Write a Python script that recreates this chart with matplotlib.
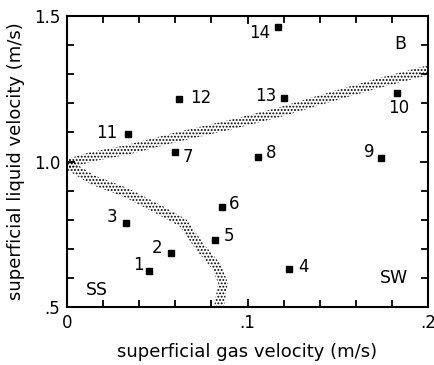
import numpy as np
import matplotlib
matplotlib.use('Agg')
import matplotlib.pyplot as plt
from matplotlib.patches import Polygon
from matplotlib.transforms import IdentityTransform

# measured points (gas velocity, liquid velocity), numbered 1..14
point_ids = [str(i) for i in range(1, 15)]
gas_vel = [0.0454, 0.0576, 0.0327, 0.123, 0.082, 0.0859, 0.0598,
           0.1058, 0.174, 0.183, 0.0338, 0.062, 0.120, 0.117]
liq_vel = [0.624, 0.686, 0.789, 0.631, 0.730, 0.844, 1.033,
           1.015, 1.012, 1.235, 1.095, 1.215, 1.218, 1.462]

# transition boundaries
upper_gas = [0.0, 0.0127, 0.0332, 0.0609, 0.0942, 0.118, 0.146, 0.173, 0.2]
upper_liq = [0.991, 1.015, 1.040, 1.084, 1.132, 1.170, 1.222, 1.270, 1.314]
lower_gas = [0.0, 0.0144, 0.0332, 0.0515, 0.0643, 0.0737, 0.0831, 0.0864, 0.0848, 0.084]
lower_liq = [0.991, 0.936, 0.892, 0.833, 0.789, 0.706, 0.637, 0.582, 0.524, 0.49]

# regime labels
regimes = ['B', 'SS', 'SW']
regime_gas = [0.1845, 0.0166, 0.181]
regime_liq = [1.404, 0.558, 0.60]

# label offsets in pixels (style only)
label_off = [(-11, 6), (-14, 5), (-14, 6), (14, 2), (14, 4), (12, 3), (13, -5),
             (13, 4), (-12, 6), (1, -15), (-21, 1), (22, 1), (-18, 2), (-19, -6)]

plt.rcParams['font.family'] = ['DejaVu Sans']
plt.rcParams['hatch.linewidth'] = 0.9

fig = plt.figure(figsize=(4.35, 3.65), dpi=100)
ax = fig.add_axes([0.154, 0.159, 0.83, 0.797])
ax.set_xlim(0, 0.2)
ax.set_ylim(0.5, 1.5)


def band(ax, xs, ys, half=4.8):
    pts = ax.transData.transform(np.column_stack([xs, ys]))
    d = np.gradient(pts, axis=0)
    n = np.column_stack([-d[:, 1], d[:, 0]])
    n /= np.linalg.norm(n, axis=1)[:, None]
    poly = np.vstack([pts + half * n, (pts - half * n)[::-1]])
    p = Polygon(poly, closed=True, transform=IdentityTransform(),
                facecolor='none', edgecolor='black', lw=0, hatch='.....')
    ax.add_patch(p)


band(ax, upper_gas, upper_liq)
band(ax, lower_gas, lower_liq)

ax.plot(gas_vel, liq_vel, 's', color='black', ms=3.8, mec='black')
for lab, x, y, off in zip(point_ids, gas_vel, liq_vel, label_off):
    ax.annotate(lab, (x, y), xytext=off, textcoords='offset pixels',
                ha='center', va='center', fontsize=12)

for lab, x, y in zip(regimes, regime_gas, regime_liq):
    ax.text(x, y, lab, ha='center', va='center', fontsize=12.5)

ax.set_xticks([0, 0.1, 0.2])
ax.set_xticklabels(['0', '.1', '.2'])
ax.set_xticks(np.arange(0, 0.201, 0.02), minor=True)
ax.set_yticks([0.5, 1.0, 1.5])
ax.set_yticklabels(['.5', '1.0', '1.5'])
ax.set_yticks(np.arange(0.5, 1.501, 0.1), minor=True)
ax.tick_params(which='both', direction='in', top=True, right=True,
               width=1.3, labelsize=12)
ax.tick_params(which='major', length=6, pad=5)
ax.tick_params(which='minor', length=5)
for s in ax.spines.values():
    s.set_linewidth(1.5)

ax.set_xlabel('superficial gas velocity (m/s)', fontsize=13, labelpad=8)
ax.set_ylabel('superficial liquid velocity (m/s)', fontsize=13, labelpad=6)

fig.savefig('out.png', dpi=100)
